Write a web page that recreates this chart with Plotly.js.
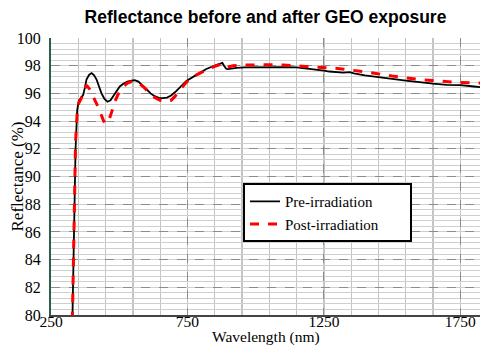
<!DOCTYPE html>
<html>
<head>
<meta charset="utf-8">
<script src="https://cdn.plot.ly/plotly-3.0.1.min.js"></script>
<style>html,body{margin:0;padding:0;background:#fff;}#chart{width:480px;height:350px;}</style>
</head>
<body>
<div id="chart"></div>
<script>
// Pre-irradiation (black solid)
const preWavelength = [326,329,334,340,346,352,360,368,374,380,390,399,408,417,426,435,446,457,468,476,484,493,502,515,530,545,557,570,585,600,615,630,645,660,675,690,705,720,746,780,819,850,870,878,884,892,898,910,930,960,1000,1050,1100,1150,1200,1230,1250,1270,1300,1320,1345,1360,1400,1450,1500,1550,1600,1650,1700,1750,1800,1825];
const preReflectance = [77,80,86,92,94.8,95.5,95.66,95.9,96.4,97.0,97.35,97.47,97.3,97.0,96.5,96.0,95.6,95.4,95.5,95.75,96.0,96.25,96.5,96.7,96.85,96.92,96.95,96.85,96.6,96.3,96.0,95.8,95.68,95.66,95.7,95.85,96.1,96.4,96.9,97.3,97.76,98.0,98.15,98.2,98.0,97.78,97.75,97.8,97.85,97.88,97.9,97.88,97.9,97.88,97.78,97.72,97.64,97.58,97.56,97.5,97.54,97.45,97.3,97.2,97.05,96.93,96.8,96.7,96.62,96.6,96.5,96.45];
// Post-irradiation (red dashed)
const postWavelength = [326,329,334,340,346,352,360,370,380,392,402,412,423,433,443,453,463,473,484,495,510,530,551,570,590,610,630,650,673,690,705,720,746,780,819,850,878,895,917,950,1000,1050,1100,1150,1200,1245,1300,1344,1400,1441,1500,1550,1600,1647,1700,1745,1800,1825];
const postReflectance = [77,80,86.5,92.5,94.6,95.3,95.6,96.1,96.6,96.3,95.9,95.5,95.0,94.5,94.0,93.8,94.1,94.7,95.4,95.9,96.4,96.75,96.9,96.75,96.45,96.05,95.7,95.5,95.4,95.5,95.8,96.2,96.8,97.3,97.7,97.95,98.15,97.9,98.0,98.05,98.07,98.07,98.05,98.0,97.95,97.88,97.8,97.7,97.58,97.44,97.25,97.1,97.0,96.93,96.85,96.79,96.76,96.75];
const xTicks = [250,750,1250,1750];
const yTicks = [80,82,84,86,88,90,92,94,96,98,100];
const seriesNames = ['Pre-irradiation', 'Post-irradiation'];
const xTitle = 'Wavelength (nm)';
const yTitle = 'Reflectance (%)';
const chartTitle = 'Reflectance before and after GEO exposure';

const serif = 'Times New Roman, Liberation Serif, DejaVu Serif, serif';
const pad = '\u00a0\u00a0\u00a0\u00a0\u00a0\u00a0\u00a0';

const traces = [
  {x: preWavelength, y: preReflectance, type: 'scatter', mode: 'lines', name: seriesNames[0] + pad,
   legendgroup: 'a', line: {color: '#000000', width: 1.8}},
  {x: postWavelength, y: postReflectance, type: 'scatter', mode: 'lines', name: seriesNames[1] + pad,
   legendgroup: 'b', line: {color: '#ff0000', width: 3, dash: 'dash'}}
];

const layout = {
  width: 480, height: 350,
  font: {family: serif, size: 15, color: '#000'},
  margin: {l: 51, r: 0, t: 38, b: 35, pad: 0},
  paper_bgcolor: '#ffffff', plot_bgcolor: '#ffffff',
  title: {text: chartTitle, x: 0.5, xref: 'paper', xanchor: 'center',
          y: 0.952, yref: 'container', yanchor: 'middle',
          font: {family: 'Liberation Sans, Arial, sans-serif', size: 17.5, color: '#000', weight: 'bold'}},
  xaxis: {
    range: [250, 1822], tickvals: xTicks, ticktext: xTicks.map(String),
    showline: true, linecolor: '#444444', linewidth: 1.5, mirror: false,
    showgrid: true, gridcolor: '#8c8c8c', griddash: 'dash', gridwidth: 1,
    minor: {dtick: 100, tick0: 250, showgrid: true, gridcolor: '#c4c4c4', gridwidth: 1.3, griddash: 'solid'},
    zeroline: false, ticks: '', ticklabelstandoff: -8,
    tickfont: {family: serif, size: 15.5, color: '#000'}
  },
  yaxis: {
    range: [80, 100], tickvals: yTicks, ticktext: yTicks.map(String),
    showline: true, linecolor: '#2f5a4c', linewidth: 2,
    showgrid: true, gridcolor: '#8c8c8c', griddash: 'dash', gridwidth: 1,
    minor: {dtick: 0.4, tick0: 80, showgrid: true, gridcolor: '#cfcfcf', gridwidth: 1, griddash: 'solid'},
    zeroline: false, ticks: '', ticklabelstandoff: 5,
    tickfont: {family: serif, size: 16, color: '#000'}
  },
  annotations: [
    {text: xTitle, xref: 'paper', yref: 'paper', x: 0.5, y: 0, xanchor: 'center', yanchor: 'top',
     yshift: -11, showarrow: false, font: {family: serif, size: 15.5, color: '#000'}},
    {text: yTitle, xref: 'paper', yref: 'paper', x: 0, y: 0.5, xanchor: 'center', yanchor: 'middle',
     xshift: -34, textangle: -90, showarrow: false, font: {family: serif, size: 17, color: '#000'}}
  ],
  showlegend: true,
  legend: {x: 0.4476, y: 0.476, xanchor: 'left', yanchor: 'top', xref: 'paper', yref: 'paper',
           bgcolor: '#ffffff', bordercolor: '#000000', borderwidth: 2,
           traceorder: 'grouped', tracegroupgap: 0,
           font: {family: serif, size: 15, color: '#000'}}
};

Plotly.newPlot('chart', traces, layout, {displayModeBar: false, staticPlot: true});
</script>
</body>
</html>
